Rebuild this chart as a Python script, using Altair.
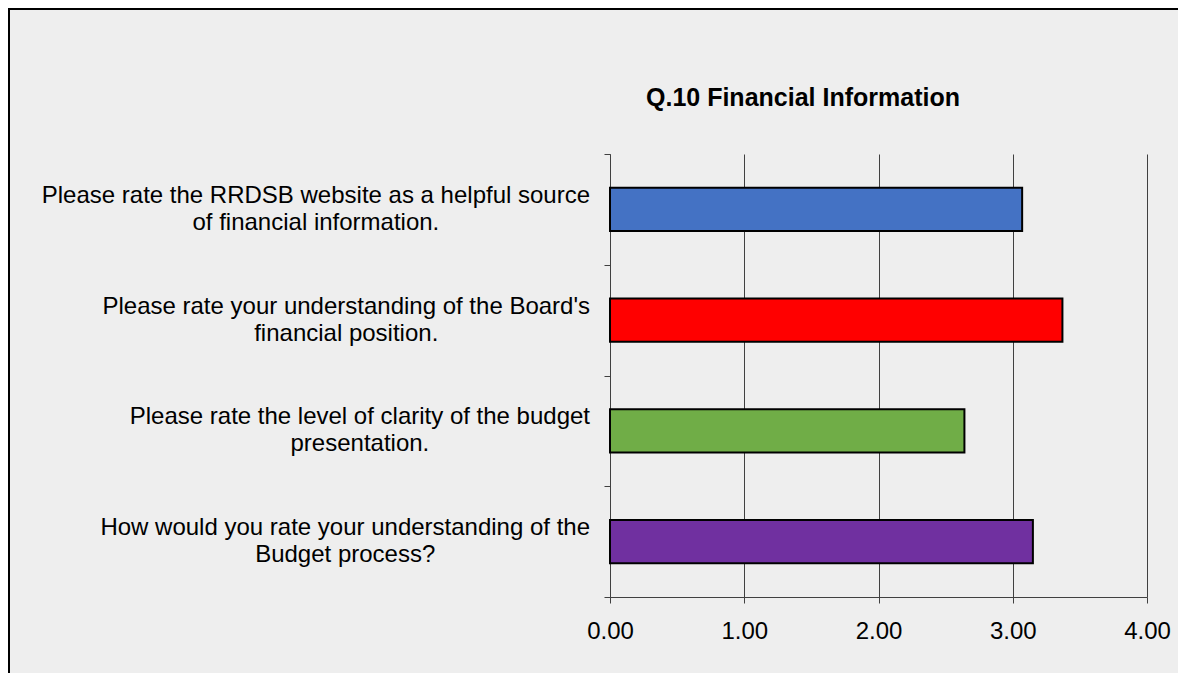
import altair as alt
import pandas as pd

# ---- data ----
question_lines = [
    ["Please rate the RRDSB website as a helpful source", "of financial information."],
    ["Please rate your understanding of the Board's", "financial position."],
    ["Please rate the level of clarity of the budget", "presentation."],
    ["How would you rate your understanding of the", "Budget process?"],
]
scores = [3.07, 3.37, 2.64, 3.15]
bar_colors = ["#4472C4", "#FF0000", "#70AD47", "#7030A0"]
x_ticks = [0, 1, 2, 3, 4]
title_text = "Q.10 Financial Information"

# ---- layout ----
W, H = 537, 443
PL, PT, PR, PB = 602, 146, 31, 76
FONT = "Liberation Sans"
LABEL_SIZE = 24
LINE_HEIGHT = 27
LABEL_GAP = 20  # gap between label block's right edge and the axis

# Arial / Liberation Sans advance widths (per 1000 em) to centre each label block
_w = {" ": 278, ".": 278, "'": 191, "?": 556,
      "P": 667, "R": 722, "D": 722, "S": 667, "B": 667, "H": 722,
      "a": 556, "b": 556, "c": 500, "d": 556, "e": 556, "f": 278, "g": 556,
      "h": 556, "i": 222, "j": 222, "k": 500, "l": 222, "m": 833, "n": 556,
      "o": 556, "p": 556, "q": 556, "r": 333, "s": 500, "t": 278, "u": 556,
      "v": 500, "w": 722, "x": 500, "y": 500, "z": 500}


def text_width(s, size):
    return sum(_w.get(ch, 556) for ch in s) * size / 1000.0


cats = [" ".join(q) for q in question_lines]
px_per_unit = W / (x_ticks[-1] - x_ticks[0])
label_x = [-(LABEL_GAP + max(text_width(l, LABEL_SIZE) for l in q) / 2) / px_per_unit
           for q in question_lines]

df = pd.DataFrame({"category": cats, "score": scores, "lines": question_lines, "lx": label_x})

x_scale = alt.Scale(domain=[x_ticks[0], x_ticks[-1]], nice=False, zero=True)
y_enc = alt.Y(
    "category:N",
    sort=cats,
    scale=alt.Scale(paddingInner=0, paddingOuter=0),
    axis=alt.Axis(labels=False, title=None, tickBand="extent", tickSize=6,
                  tickColor="#404040", domainColor="#404040", grid=False),
)

bars = alt.Chart(df).mark_bar(
    height=alt.RelativeBandSize(band=0.39), stroke="black", strokeWidth=2
).encode(
    x=alt.X("score:Q", scale=x_scale,
            axis=alt.Axis(values=x_ticks, format=".2f", grid=True, gridColor="#404040",
                          gridWidth=1, tickSize=6, tickColor="#404040",
                          domainColor="#404040", labelFontSize=24, labelPadding=16,
                          labelFlush=False, labelColor="black", labelFont=FONT,
                          title=None)),
    y=y_enc,
    color=alt.Color("category:N", scale=alt.Scale(domain=cats, range=bar_colors), legend=None),
    tooltip=["category:N", "score:Q"],
)

labels = alt.Chart(df).mark_text(
    align="center", baseline="middle", font=FONT, fontSize=LABEL_SIZE,
    lineHeight=LINE_HEIGHT, dy=-LINE_HEIGHT / 2, color="black"
).encode(
    x=alt.X("lx:Q", scale=x_scale),
    y=y_enc,
    text="lines",
)

border = alt.Chart(alt.Data(values=[{}])).mark_rect(
    fillOpacity=0, stroke="black", strokeWidth=2
).encode(
    x=alt.value(-PL + 1), x2=alt.value(W + PR + 20),
    y=alt.value(-PT + 1), y2=alt.value(H + PB + 20),
)

chart = alt.layer(bars, labels, border).properties(
    width=W, height=H,
    title=alt.TitleParams(title_text, anchor="start", frame="group", dx=36,
                          font=FONT, fontSize=25, fontWeight="bold", color="black",
                          baseline="alphabetic", offset=-123),
    background="#eeeeee",
    padding={"left": PL, "top": PT, "right": PR, "bottom": PB},
    autosize=alt.AutoSizeParams(type="none"),
).configure_view(stroke=None)

chart.save("out.html", embed_options={"renderer": "svg", "actions": False})
